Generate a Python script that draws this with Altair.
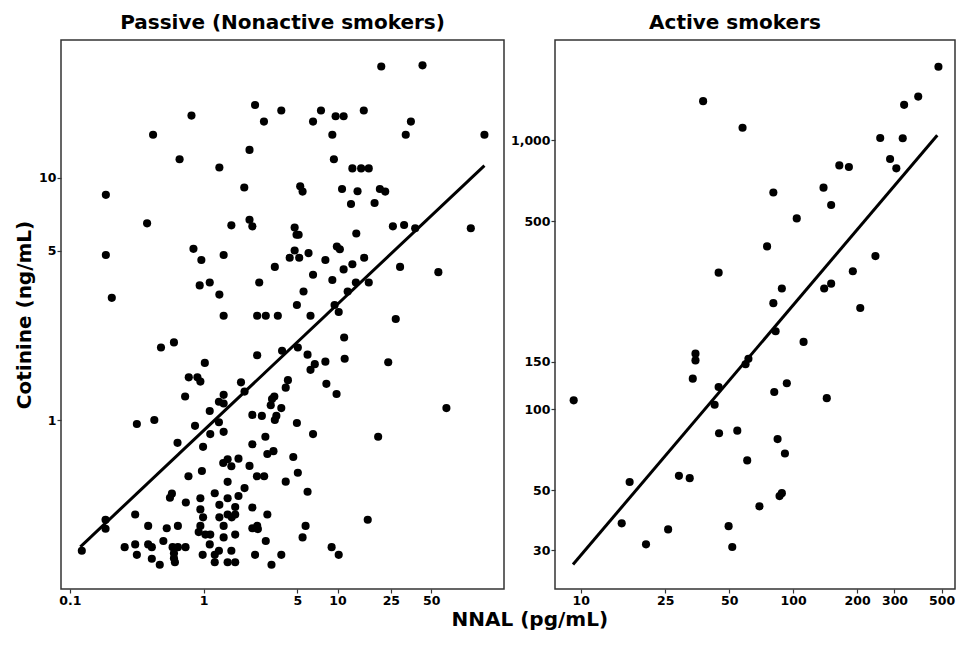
import altair as alt
import pandas as pd

FONT = "DejaVu Sans"

# ---- Passive (nonactive smokers) ----
passive_nnal = [21.2, 43.1, 2.42, 3.80, 7.52, 15.7, 0.811, 2.82, 6.56, 9.67, 11.1, 35.3, 0.419, 9.14, 32.3, 125,
                2.20, 0.661, 9.39, 1.31, 12.9, 15.0, 17.1, 0.186, 2.01, 5.26, 5.48, 10.8, 14.1, 20.7, 22.7, 12.6,
                18.9, 0.378, 1.61, 2.20, 2.31, 25.9, 31.4, 38.0, 98.9, 4.78, 4.94, 5.12, 13.8, 0.186, 0.839, 0.961,
                1.41, 4.78, 4.39, 5.17, 6.07, 8.11, 9.88, 10.4, 15.8, 3.40, 12.9, 11.1, 29.3, 56.6, 6.56, 0.934,
                1.11, 2.60, 9.14, 13.7, 17.1, 0.206, 1.31, 5.57, 11.9, 4.97, 9.50, 10.2, 1.41, 2.51, 2.91, 3.58,
                6.28, 27.2, 0.600, 0.480, 11.2, 3.85, 5.05, 2.51, 5.97, 11.3, 23.9, 1.02, 8.11, 6.76, 6.28, 0.774,
                0.898, 0.945, 1.90, 2.02, 4.26, 4.10, 8.25, 9.83, 0.727, 1.41, 1.30, 1.41, 3.37, 3.24, 3.17, 3.80,
                65.0, 1.11, 2.31, 2.72, 3.49, 3.40, 0.317, 0.428, 1.30, 0.862, 4.97, 1.12, 1.41, 6.56, 20.1, 2.89,
                0.638, 0.99, 2.31, 2.99, 3.32, 4.67, 1.82, 1.51, 1.40, 1.61, 2.20, 0.97, 5.05, 0.770, 2.50, 2.83,
                1.51, 4.10, 2.02, 0.579, 0.560, 1.21, 1.82, 5.97, 0.945, 1.51, 0.736, 1.31, 1.72, 2.31, 0.945,
                0.308, 0.99, 1.31, 1.51, 1.62, 1.72, 2.99, 16.8, 0.185, 0.185, 0.385, 0.530, 0.642, 0.945, 1.41,
                2.31, 2.51, 2.54, 5.77, 0.918, 1.03, 1.12, 1.72, 1.41, 2.91, 5.48, 0.500, 1.11, 0.257, 0.308,
                0.385, 0.410, 0.586, 0.642, 0.732, 9.03, 0.123, 0.317, 0.410, 0.470, 0.600, 0.600, 0.610, 0.983,
                1.21, 1.30, 1.21, 1.61, 1.51, 1.72, 2.42, 3.80, 3.21, 10.2]
passive_cot = [28.7, 29.0, 19.9, 18.9, 18.9, 18.9, 18.0, 17.0, 17.0, 17.9, 17.9, 17.0, 15.0, 15.0, 15.0, 15.0,
               13.0, 11.9, 11.9, 11.0, 10.9, 10.9, 10.9, 8.48, 9.09, 9.20, 8.75, 8.97, 8.78, 8.97, 8.75, 7.78,
               7.85, 6.47, 6.35, 6.70, 6.29, 6.29, 6.37, 6.18, 6.18, 6.22, 5.81, 5.81, 5.88, 4.79, 5.08, 4.57,
               4.79, 5.00, 4.67, 4.67, 4.88, 4.57, 5.19, 5.06, 4.67, 4.28, 4.39, 4.18, 4.28, 4.07, 3.97, 3.59,
               3.69, 3.69, 3.78, 3.69, 3.69, 3.19, 3.29, 3.39, 3.39, 2.98, 2.98, 2.79, 2.69, 2.69, 2.69, 2.69,
               2.69, 2.61, 2.09, 1.99, 2.19, 1.93, 1.99, 1.85, 1.86, 1.79, 1.73, 1.72, 1.74, 1.70, 1.61, 1.50,
               1.50, 1.44, 1.43, 1.31, 1.46, 1.36, 1.41, 1.28, 1.25, 1.27, 1.19, 1.17, 1.25, 1.22, 1.15, 1.12,
               1.12, 1.09, 1.05, 1.04, 1.04, 1.00, 0.963, 1.00, 0.979, 0.946, 0.972, 0.875, 0.894, 0.875, 0.853, 0.853,
               0.805, 0.775, 0.794, 0.724, 0.744, 0.704, 0.693, 0.689, 0.665, 0.645, 0.647, 0.616, 0.606, 0.586, 0.586, 0.586,
               0.556, 0.557, 0.524, 0.497, 0.478, 0.499, 0.486, 0.506, 0.476, 0.476, 0.457, 0.447, 0.438, 0.436, 0.428,
               0.408, 0.397, 0.397, 0.408, 0.397, 0.408, 0.408, 0.388, 0.388, 0.356, 0.366, 0.358, 0.366, 0.366, 0.366,
               0.358, 0.366, 0.355, 0.366, 0.345, 0.337, 0.337, 0.337, 0.328, 0.317, 0.328, 0.317, 0.307, 0.299, 0.307,
               0.307, 0.299, 0.299, 0.299, 0.299, 0.299, 0.289, 0.278, 0.268, 0.253, 0.282, 0.269, 0.259, 0.278,
               0.278, 0.289, 0.259, 0.289, 0.259, 0.259, 0.278, 0.278, 0.253, 0.278]
passive_fit_nnal = [0.12, 125]
passive_fit_cot = [0.30, 11.2]

# ---- Active smokers ----
active_nnal = [483, 37.7, 388, 333, 57.8, 257, 328, 286, 306, 165, 183, 139, 80.7, 151, 104, 75.4, 44.6, 244,
               191, 88.5, 140, 151, 80.7, 207, 9.27, 82.7, 112, 34.7, 34.7, 59.7, 61.6, 33.7, 44.6, 93.4, 81.5,
               144, 42.7, 44.8, 54.6, 84.5, 91.5, 60.8, 17.0, 29.0, 32.6, 88.5, 86.3, 69.4, 15.6, 25.8, 49.7,
               20.3, 51.7]
active_cot = [1874, 1396, 1452, 1353, 1112, 1019, 1017, 851, 786, 806, 795, 666, 639, 574, 512, 403, 322, 371,
              326, 281, 281, 293, 248, 238, 108, 195, 178, 161, 152, 147, 154, 130, 121, 125, 116, 110, 104,
              81.5, 83.3, 77.5, 68.5, 64.6, 53.7, 56.6, 55.5, 48.8, 47.6, 43.6, 37.7, 35.8, 36.8, 31.5, 30.8]
active_fit_nnal = [9.2, 477]
active_fit_cot = [26.5, 1043]

passive_xticks = [0.1, 1, 5, 10, 25, 50]
passive_yticks = [1, 5, 10]
active_xticks = [10, 25, 50, 100, 200, 300, 500]
active_yticks = [30, 50, 100, 150, 500, 1000]

FRAME = "#333333"


def panel(nnal, cot, fx, fy, xdom, ydom, xticks, yticks, title, w, h, ytitle, title_dx):
    pts = pd.DataFrame({"nnal": nnal, "cot": cot})
    fit = pd.DataFrame({"nnal": fx, "cot": fy})
    xs = alt.Scale(type="log", domain=xdom, nice=False)
    ys = alt.Scale(type="log", domain=ydom, nice=False)
    xa = alt.Axis(values=xticks, title=None, format=",", grid=False)
    if ytitle:
        ya = alt.Axis(values=yticks, title=ytitle, format=",", grid=False, titlePadding=4)
    else:
        ya = alt.Axis(values=yticks, title=None, format=",", grid=False)
    p = alt.Chart(pts).mark_circle(size=66, color="black", opacity=1).encode(
        x=alt.X("nnal:Q", scale=xs, axis=xa),
        y=alt.Y("cot:Q", scale=ys, axis=ya),
    )
    l = alt.Chart(fit).mark_line(color="black", strokeWidth=3).encode(
        x=alt.X("nnal:Q", scale=xs), y=alt.Y("cot:Q", scale=ys)
    )
    return alt.layer(p, l).properties(
        width=w, height=h,
        title=alt.TitleParams(title, fontSize=20, font=FONT, fontWeight="bold", offset=7, dx=title_dx),
    )


PH = 549
left = panel(passive_nnal, passive_cot, passive_fit_nnal, passive_fit_cot,
             [0.086, 175], [0.201, 36.9], passive_xticks, passive_yticks,
             "Passive (Nonactive smokers)", 443, PH, "Cotinine (ng/mL)", 0)
right = panel(active_nnal, active_cot, active_fit_nnal, active_fit_cot,
              [7.57, 578], [21.5, 2356], active_xticks, active_yticks,
              "Active smokers", 400, PH, None, -20)

chart = alt.hconcat(left, right, spacing=4).properties(
    padding={"left": 5, "top": 4, "right": 0, "bottom": 0},
    title=alt.TitleParams("NNAL (pg/mL)", orient="bottom", anchor="middle", fontSize=20,
                          font=FONT, fontWeight="bold", dx=45, offset=3),
).configure_view(stroke=FRAME, strokeWidth=1.5).configure_axis(
    labelFont=FONT, labelFontWeight="bold", labelFontSize=12.5, labelColor="black",
    titleFont=FONT, titleFontWeight="bold", titleFontSize=20, titleColor="black",
    tickColor=FRAME, tickSize=4, tickWidth=1.2, domain=False, labelPadding=1,
).configure_title(color="black")

chart.save("out.html", embed_options={"renderer": "svg", "actions": False})
